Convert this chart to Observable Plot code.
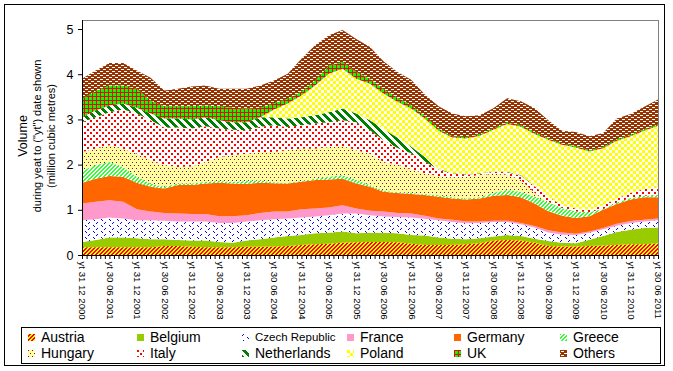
<!DOCTYPE html>
<html>
<head>
<meta charset="utf-8">
<script src="https://cdn.jsdelivr.net/npm/d3@7"></script>
<script src="https://cdn.jsdelivr.net/npm/@observablehq/plot@0.6"></script>
<style>
  html, body { margin: 0; padding: 0; background: #fff; }
  #wrap { position: relative; width: 673px; height: 371px; overflow: hidden; font-family: "Liberation Sans", Arial, sans-serif; }
  #outer { position: absolute; left: 4px; top: 4px; width: 661px; height: 362px; border: 1px solid #000; box-sizing: border-box; }
  #chart { position: absolute; left: 0; top: 0; }
  #legend { position: absolute; left: 21px; top: 327px; width: 640px; height: 37px; border: 1px solid #000; box-sizing: border-box; background: #fff; }
  .item { position: absolute; display: flex; align-items: center; font-size: 14px; line-height: 14px; color: #000; white-space: nowrap; }
  .item svg { margin-right: 6px; flex: none; }
</style>
</head>
<body>
<div id="wrap">
  <div id="outer"></div>
  <div id="chart"></div>
  <div id="legend"></div>
</div>
<script>
// ---- data (quarterly readings, million cubic metres) ----
const months = ["2000-12","2001-03","2001-06","2001-09","2001-12","2002-03","2002-06","2002-09","2002-12","2003-03","2003-06","2003-09","2003-12","2004-03","2004-06","2004-09","2004-12","2005-03","2005-06","2005-09","2005-12","2006-03","2006-06","2006-09","2006-12","2007-03","2007-06","2007-09","2007-12","2008-03","2008-06","2008-09","2008-12","2009-03","2009-06","2009-09","2009-12","2010-03","2010-06","2010-09","2010-12","2011-03","2011-06"];
const seriesNames = ["Austria","Belgium","Czech Republic","France","Germany","Greece","Hungary","Italy","Netherlands","Poland","UK","Others"];
const austria     = [.17,.17,.17,.17,.17,.17,.20,.20,.18,.17,.17,.17,.18,.18,.19,.20,.22,.24,.25,.27,.28,.29,.29,.28,.25,.22,.22,.22,.24,.26,.32,.33,.32,.27,.20,.19,.19,.20,.21,.22,.24,.24,.26];
const belgium     = [.12,.16,.22,.22,.20,.18,.15,.13,.14,.15,.12,.10,.14,.17,.20,.22,.22,.24,.24,.25,.20,.20,.20,.20,.19,.21,.17,.14,.11,.11,.09,.11,.10,.09,.11,.08,.07,.14,.21,.29,.32,.36,.35];
const czech       = [.48,.46,.44,.42,.40,.42,.41,.41,.42,.42,.42,.44,.42,.42,.40,.39,.39,.37,.39,.40,.44,.39,.36,.36,.39,.37,.38,.37,.35,.34,.32,.29,.26,.25,.19,.18,.18,.15,.15,.14,.15,.14,.16];
const france      = [.37,.39,.38,.37,.24,.19,.17,.18,.17,.17,.15,.15,.14,.16,.17,.15,.18,.18,.17,.18,.11,.10,.11,.09,.09,.07,.04,.05,.04,.03,.03,.03,.03,.03,.05,.05,.03,.03,.03,.04,.04,.04,.04];
const germany     = [.46,.51,.54,.55,.59,.55,.54,.63,.64,.67,.74,.72,.69,.67,.63,.62,.61,.63,.62,.59,.55,.53,.44,.44,.43,.46,.48,.47,.49,.51,.55,.57,.57,.50,.42,.37,.35,.34,.40,.44,.48,.50,.47];
const greece      = [.26,.30,.31,.22,.13,.07,.04,.03,.03,.04,.04,.04,.07,.05,.02,.02,.02,.03,.06,.08,.08,.04,.02,.02,.02,.02,.03,.03,.02,.03,.07,.11,.12,.16,.20,.17,.15,.09,.02,.03,.03,.03,.05];
const hungary     = [.42,.36,.37,.40,.51,.52,.48,.37,.38,.44,.53,.59,.60,.63,.67,.72,.71,.66,.66,.64,.66,.69,.64,.61,.53,.46,.43,.44,.48,.49,.42,.34,.26,.08,.01,0,0,0,0,0,0,0,0];
const italy       = [.66,.70,.73,.87,.89,.88,.83,.87,.84,.79,.63,.56,.52,.56,.59,.51,.52,.56,.55,.57,.62,.52,.48,.37,.35,.26,.14,.08,.05,.03,.04,.05,.10,.14,.11,.06,.06,.05,.08,.09,.11,.15,.17];
const netherlands = [.11,.15,.15,.13,.13,.15,.20,.20,.20,.20,.18,.17,.18,.21,.18,.19,.18,.18,.22,.26,.19,.22,.24,.23,.15,.10,.02,.01,.01,.01,.01,.01,.01,.01,0,0,0,0,0,0,0,0,0];
const poland      = [0,0,0,0,0,0,0,0,0,0,0,0,0,0,.17,.33,.48,.66,.85,.88,.77,.81,.79,.79,.84,.85,.84,.79,.79,.83,.92,1.06,1.07,1.15,1.26,1.34,1.35,1.29,1.26,1.28,1.26,1.29,1.36];
const uk          = [.41,.43,.44,.40,.42,.29,.27,.27,.29,.26,.31,.32,.30,.21,.14,.11,.08,.11,.18,.15,.15,.11,.10,.09,.08,.06,.05,.03,.03,.03,.03,.03,.03,.04,.03,.03,.03,.03,.03,.03,.03,.03,.03];
const others      = [.44,.45,.50,.50,.40,.50,.35,.39,.44,.44,.39,.42,.44,.49,.50,.55,.73,.78,.67,.71,.73,.70,.61,.57,.56,.47,.49,.50,.46,.42,.45,.54,.53,.53,.40,.28,.31,.31,.31,.46,.46,.50,.55];
const tickLabels = ["yt 31 12 2000","yt 30 06 2001","yt 31 12 2001","yt 30 06 2002","yt 31 12 2002","yt 30 06 2003","yt 31 12 2003","yt 30 06 2004","yt 31 12 2004","yt 30 06 2005","yt 31 12 2005","yt 30 06 2006","yt 31 12 2006","yt 30 06 2007","yt 31 12 2007","yt 30 06 2008","yt 31 12 2008","yt 30 06 2009","yt 31 12 2009","yt 30 06 2010","yt 31 12 2010","yt 30 06 2011"];
const yTicks = [0, 1, 2, 3, 4, 5];

// ---- build table ----
const values = [austria, belgium, czech, france, germany, greece, hungary, italy, netherlands, poland, uk, others];
const monthIndex = s => { const [y, m] = s.split("-").map(Number); return (y - 2000) * 12 + m - 12; };
const data = [];
seriesNames.forEach((name, i) => {
  months.forEach((mo, j) => data.push({series: name, m: monthIndex(mo), value: values[i][j]}));
});
const labelIndex = tickLabels.map(l => { const p = l.split(" "); return (Number(p[3]) - 2000) * 12 + Number(p[2]) - 12; });
const labelOf = new Map(labelIndex.map((v, i) => [v, tickLabels[i]]));
const lastM = monthIndex(months[months.length - 1]);
const monthTicks = d3.range(0, lastM + 1);

const fills = ["url(#p-austria)","#99CC00","url(#p-czech)","#FF99CC","#FF6600","url(#p-greece)","url(#p-hungary)","url(#p-italy)","url(#p-netherlands)","url(#p-poland)","url(#p-uk)","url(#p-others)"];

// pixel-pattern helper: list of [x,y,w,h] rectangles
const px = (rects, color) => rects.map(([x, y, w = 1, h = 1]) => `<rect x="${x}" y="${y}" width="${w}" height="${h}" fill="${color}"/>`).join("");
const diagUp = (n, band) => { const r = []; for (let y = 0; y < n; y++) for (let x = 0; x < n; x++) if (band.includes((x + y) % n)) r.push([x, y]); return r; };
const diagDown = (n, band) => { const r = []; for (let y = 0; y < n; y++) for (let x = 0; x < n; x++) if (band.includes(((x - y) % n + n) % n)) r.push([x, y]); return r; };
const pat = (id, w, h, bg, inner) => `<pattern id="${id}" patternUnits="userSpaceOnUse" width="${w}" height="${h}"><rect width="${w}" height="${h}" fill="${bg}"/>${inner}</pattern>`;
const defs =
  pat("p-austria", 4, 4, "#FF0000", px(diagUp(4, [0, 3]), "#FFFF00")) +
  pat("p-czech", 8, 6, "#FFFFFF", px([[1,0],[0,1],[5,3],[6,4]], "#0000FF")) +
  pat("p-greece", 4, 4, "#FFFFFF", px(diagUp(4, [0, 3]), "#33FF33")) +
  pat("p-hungary", 4, 6, "#FFFF99", px([[0,0],[2,3]], "#800080")) +
  pat("p-italy", 6, 6, "#FFFFFF", px([[0,0,2,2],[3,3,2,2]], "#FF0000")) +
  pat("p-netherlands", 8, 8, "#FFFFFF", px(diagDown(8, [0, 1, 2, 3]), "#008000")) +
  pat("p-poland", 6, 6, "#FFFFFF", px([[0,0,3,3],[3,3,3,3]], "#FFFF00")) +
  pat("p-uk", 4, 4, "#00FF00", px([[0,0,4,1],[0,0,1,4]], "#FF0000")) +
  pat("p-others", 6, 4, "#993300", px([[1,1,3,1],[4,3,2,1],[0,3,1,1]], "#FFFFFF"));

const W = 673, H = 323;
const plot = Plot.plot({
  width: W, height: H,
  marginLeft: 82, marginRight: 15, marginTop: 20, marginBottom: H - 255,
  style: {fontFamily: "'Liberation Sans', Arial, sans-serif", color: "#000", background: "transparent", overflow: "hidden"},
  x: {type: "linear", domain: [0, lastM], axis: null},
  y: {domain: [0, 5.2], axis: null},
  color: {type: "ordinal", domain: seriesNames, range: fills},
  marks: [
    Plot.areaY(data, Plot.stackY({x: "m", y: "value", z: "series", fill: "series", order: seriesNames, curve: "linear"})),
    Plot.frame({stroke: "#808080"}),
    Plot.ruleY([0], {stroke: "#000"}),
    Plot.ruleX([0], {stroke: "#000"}),
    Plot.axisY({ticks: yTicks, tickSize: 4, tickPadding: 5, fontSize: 12.5, tickFormat: d => String(d), label: null, stroke: "#000"}),
    Plot.axisX({ticks: monthTicks, tickSize: 4, tickFormat: () => "", label: null, stroke: "#000"}),
    Plot.axisX({ticks: labelIndex, tickSize: 0, tickPadding: 6, tickRotate: 90, fontSize: 9.6, tickFormat: d => labelOf.get(d), label: null})
  ]
});
d3.select(plot).insert("defs", ":first-child").html(defs);

// y-axis title (three lines)
const svg = d3.select(plot);
const yTitle = [
  {text: "Volume", x: 23, size: 12.5},
  {text: "during yeat to (\"yt\") date shown", x: 37, size: 11},
  {text: "(million cubic metres)", x: 51, size: 11}
];
yTitle.forEach(t => {
  svg.append("text")
    .attr("transform", `translate(${t.x},136) rotate(-90)`)
    .attr("text-anchor", "middle")
    .attr("dominant-baseline", "central")
    .attr("font-size", t.size)
    .attr("fill", "#000")
    .text(t.text);
});
document.getElementById("chart").appendChild(plot);

// legend
const legend = document.getElementById("legend");
const colX = [6, 115, 220, 325, 432, 538];
seriesNames.forEach((name, i) => {
  const row = Math.floor(i / 6), col = i % 6;
  const el = document.createElement("div");
  el.className = "item";
  el.style.left = colX[col] + "px";
  el.style.top = (row === 0 ? 2 : 18) + "px";
  el.style.height = "14px";
  if (name === "Czech Republic") el.style.fontSize = "11.5px";
  el.innerHTML = `<svg width="7" height="7"><rect width="7" height="7" fill="${fills[i]}"/></svg><span>${name}</span>`;
  legend.appendChild(el);
});
</script>
</body>
</html>
